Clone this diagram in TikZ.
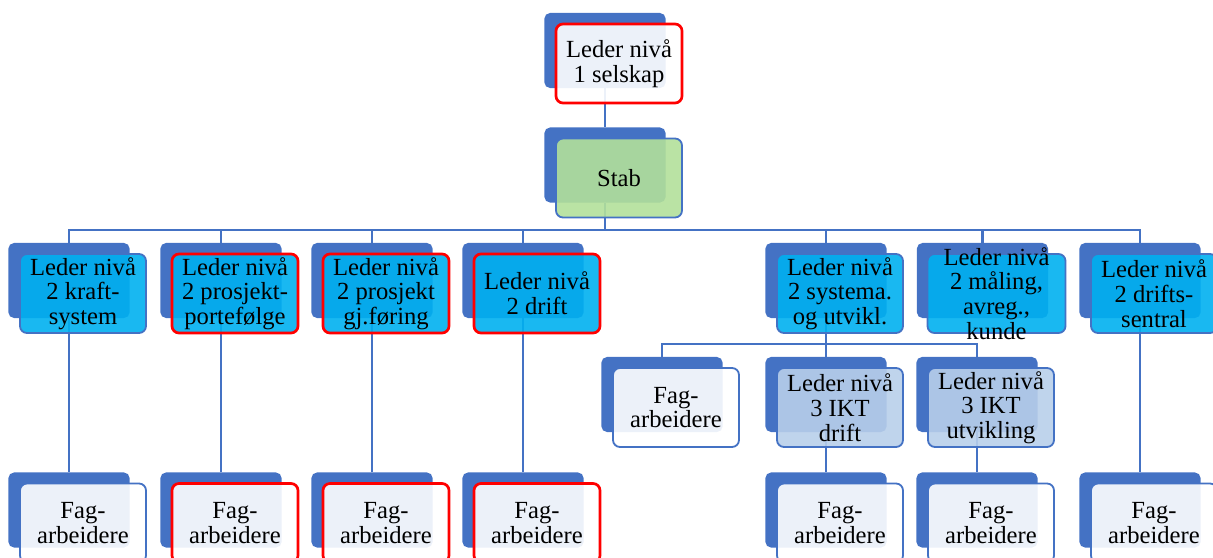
\documentclass[tikz,border=0pt]{standalone}
\usepackage{fontspec}
\setmainfont{Liberation Serif}
\usetikzlibrary{positioning,calc,backgrounds}

\definecolor{backblue}{HTML}{4472C4}
\definecolor{boxcyan}{HTML}{00B0F0}
\definecolor{boxgreen}{HTML}{B2E09A}
\definecolor{boxlight}{HTML}{B8CFEA}
\definecolor{boxred}{HTML}{FF0000}

\tikzset{
  boxtext/.style={font=\fontsize{17.5}{17.6}\selectfont, align=center, text opacity=1},
  backbox/.style={fill=backblue, rounded corners=4pt, minimum width=3.03cm, minimum height=1.875cm, inner sep=0pt},
  frontbox/.style={boxtext, draw=backblue, line width=1.3pt, rounded corners=5pt, fill=white, fill opacity=0.9, minimum width=3.15cm, minimum height=1.975cm, inner sep=0pt},
  cyanbox/.style={frontbox, fill=boxcyan},
  redline/.style={draw=boxred, line width=1.9pt},
  conn/.style={draw=backblue, line width=1.6pt},
}

\begin{document}
\begin{tikzpicture}[x=0.025cm, y=-0.025cm]
\useasboundingbox (0,0) rectangle (1213,558);

% top and stab
\node[backbox] (b0) at (605,50.5) {};
\node[frontbox, redline] (n0) at ([shift={(14,13)}]b0.center) {Leder nivå\\1 selskap};
\node[backbox] (bs) at (605,165) {};
\node[frontbox, fill=boxgreen] (ns) at ([shift={(14,13)}]bs.center) {Stab};

% level 2
\node[backbox] (b1) at (69,280.5) {};
\node[cyanbox] (n1) at ([shift={(14,13)}]b1.center) {Leder nivå\\2 kraft-\\system};
\node[backbox] (b2) at (221,280.5) {};
\node[cyanbox, redline] (n2) at ([shift={(14,13)}]b2.center) {Leder nivå\\2 prosjekt-\\portefølge};
\node[backbox] (b3) at (372,280.5) {};
\node[cyanbox, redline] (n3) at ([shift={(14,13)}]b3.center) {Leder nivå\\2 prosjekt\\gj.føring};
\node[backbox] (b4) at (523,280.5) {};
\node[cyanbox, redline] (n4) at ([shift={(14,13)}]b4.center) {Leder nivå\\2 drift};
\node[backbox] (b5) at (826,280.5) {};
\node[cyanbox] (n5) at ([shift={(14,13)}]b5.center) {Leder nivå\\2 systema.\\og utvikl.};
\node[backbox, minimum width=3.28cm] (b6) at (982.5,280.5) {};
\node[cyanbox, minimum width=3.45cm, label={[boxtext, name=t6]center:Leder nivå\\2 måling,\\avreg.,\\kunde}] (n6) at ([shift={(14,13)}]b6.center) {};
\node[backbox] (b7) at (1140,280.5) {};
\node[cyanbox] (n7) at ([shift={(14,13)}]b7.center) {Leder nivå\\2 drifts-\\sentral};

% level 3
\node[backbox] (bf) at (662,394.5) {};
\node[frontbox] (nf) at ([shift={(14,13)}]bf.center) {Fag-\\arbeidere};
\node[backbox] (b31) at (826,394.5) {};
\node[frontbox, fill=boxlight] (n31) at ([shift={(14,13)}]b31.center) {Leder nivå\\3 IKT\\drift};
\node[backbox] (b32) at (977,394.5) {};
\node[frontbox, fill=boxlight] (n32) at ([shift={(14,13)}]b32.center) {Leder nivå\\3 IKT\\utvikling};

% fagarbeidere
\node[backbox] (c1) at (69,510) {};
\node[frontbox] (m1) at ([shift={(14,13)}]c1.center) {Fag-\\arbeidere};
\node[backbox] (c2) at (221,510) {};
\node[frontbox, redline] (m2) at ([shift={(14,13)}]c2.center) {Fag-\\arbeidere};
\node[backbox] (c3) at (372,510) {};
\node[frontbox, redline] (m3) at ([shift={(14,13)}]c3.center) {Fag-\\arbeidere};
\node[backbox] (c4) at (523,510) {};
\node[frontbox, redline] (m4) at ([shift={(14,13)}]c4.center) {Fag-\\arbeidere};
\node[backbox] (c5) at (826,510) {};
\node[frontbox] (m5) at ([shift={(14,13)}]c5.center) {Fag-\\arbeidere};
\node[backbox] (c6) at (977,510) {};
\node[frontbox] (m6) at ([shift={(14,13)}]c6.center) {Fag-\\arbeidere};
\node[backbox] (c7) at (1140,510) {};
\node[frontbox] (m7) at ([shift={(14,13)}]c7.center) {Fag-\\arbeidere};

% connectors
\begin{scope}[on background layer]
\coordinate (bus) at (605,230);
\coordinate (subbus) at (826,344);
\draw[conn] (b0.south) -- (bs.north);
\draw[conn] (bs.south) -- (bus);
\draw[conn] (b1.north) |- (bus);
\draw[conn] (b2.north) |- (bus);
\draw[conn] (b3.north) |- (bus);
\draw[conn] (b4.north) |- (bus);
\draw[conn] (b5.north) |- (bus);
\draw[conn] (b6.north) |- (bus);
\draw[conn] (b7.north) |- (bus);
\draw[conn] (b5.south) -- (subbus);
\draw[conn] (bf.north) |- (subbus);
\draw[conn] (b31.north) |- (subbus);
\draw[conn] (b32.north) |- (subbus);
\draw[conn] (b1.south) -- (c1.north);
\draw[conn] (b2.south) -- (c2.north);
\draw[conn] (b3.south) -- (c3.north);
\draw[conn] (b4.south) -- (c4.north);
\draw[conn] (b31.south) -- (c5.north);
\draw[conn] (b32.south) -- (c6.north);
\draw[conn] (b7.south) -- (c7.north);
\end{scope}
\end{tikzpicture}
\end{document}
